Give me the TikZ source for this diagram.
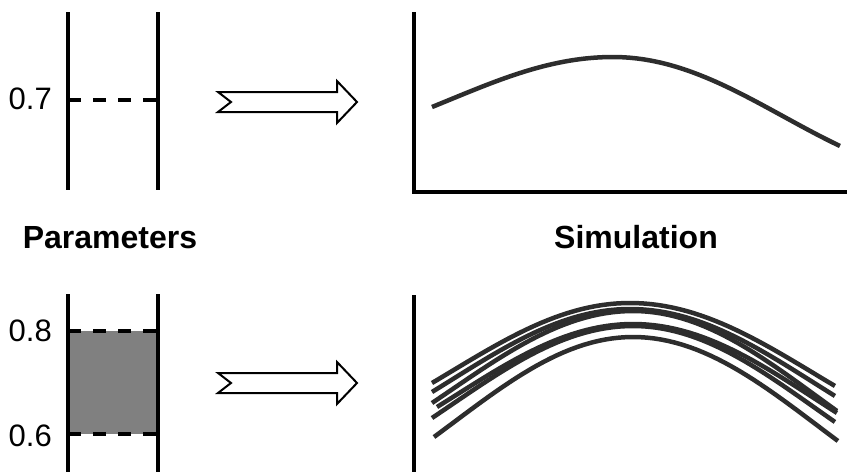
\documentclass[tikz,border=0pt]{standalone}
\usepackage{fontspec}
\setmainfont{Liberation Sans}
\begin{document}
\begin{tikzpicture}[x=1pt,y=-1pt,
  bar/.style={line width=4.5pt,black},
  dashln/.style={line width=4pt,black,dash pattern=on 13pt off 12pt},
  crv/.style={line width=4.5pt,draw={rgb,255:red,45;green,45;blue,45},line join=round},
  fatarrow/.style={line width=2pt,black,fill=white,line join=miter},
  num/.style={font=\fontsize{31}{31}\selectfont,inner sep=0pt,anchor=east},
  title/.style={font=\fontsize{32}{32}\selectfont\bfseries,inner sep=0pt,anchor=base}]
\useasboundingbox (0,0) rectangle (847,472);
% \hump{x0}{y0}{xpeak}{ypeak}{x1}{y1}{left angle}{right angle}
\newcommand\hump[8]{%
  \draw[crv] plot[domain=-1:0,samples=30,variable=\t]
     ({#3+\t*(#3-#1)},{#4+(#2-#4)*(1-cos(#7*\t))/(1-cos(#7))})
   -- plot[domain=0:1,samples=30,variable=\t]
     ({#3+\t*(#5-#3)},{#4+(#6-#4)*(1-cos(#8*\t))/(1-cos(#8))});}
% ---------- top left: single parameter ----------
\coordinate (tlA) at (68,12);  \coordinate (tlB) at (68,190);
\coordinate (trA) at (158,12); \coordinate (trB) at (158,190);
\coordinate (d7a) at (68,100); \coordinate (d7b) at (158,100);
\draw[dashln] (d7a) -- (d7b);
\draw[bar] (tlA) -- (tlB);
\draw[bar] (trA) -- (trB);
\node[num] (v07) at (52,99) {0.7};
% ---------- top arrow ----------
\draw[fatarrow] (218,92) -- (337,92) -- (337,81) -- (357,102) -- (337,123)
   -- (337,112) -- (218,112) -- (231,102) -- cycle;
% ---------- top right: one simulation ----------
\coordinate (ax1) at (414,12); \coordinate (ax0) at (414,192); \coordinate (ax2) at (847,192);
\draw[bar,line width=4pt] (ax1) -- (ax0) -- (ax2);
\hump{432}{107}{613}{57}{840}{146}{100}{120}
% ---------- titles ----------
\node[title] (par) at (110,248) {Parameters};
\node[title] (sim) at (636,248) {Simulation};
% ---------- bottom left: parameter range ----------
\coordinate (b8a) at (68,331); \coordinate (b8b) at (158,331);
\coordinate (b6a) at (68,434); \coordinate (b6b) at (158,434);
\fill[fill={rgb,255:red,128;green,128;blue,128}] (b8a) rectangle (b6b);
\draw[dashln] (b8a) -- (b8b);
\draw[dashln] (b6a) -- (b6b);
\coordinate (blA) at (68,294);  \coordinate (blB) at (68,472);
\coordinate (brA) at (158,294); \coordinate (brB) at (158,472);
\draw[bar] (blA) -- (blB);
\draw[bar] (brA) -- (brB);
\node[num] (v08) at (52,331) {0.8};
\node[num] (v06) at (52,436) {0.6};
% ---------- bottom arrow ----------
\draw[fatarrow] (218,373) -- (337,373) -- (337,362) -- (357,383) -- (337,404)
   -- (337,393) -- (218,393) -- (231,383) -- cycle;
% ---------- bottom right: ensemble ----------
\coordinate (bx1) at (414,295); \coordinate (bx0) at (414,472);
\draw[bar,line width=4pt] (bx1) -- (bx0);
\hump{432}{383}{630}{303}{835}{386}{100}{100}
\hump{432}{392}{630}{309}{835}{396}{100}{100}
\hump{432}{403}{633}{311}{837}{411}{100}{100}
\hump{437}{407}{633}{324}{837}{413}{100}{100}
\hump{432}{418}{633}{326}{835}{422}{100}{100}
\hump{434}{437}{633}{337}{838}{441}{100}{100}
\end{tikzpicture}
\end{document}
